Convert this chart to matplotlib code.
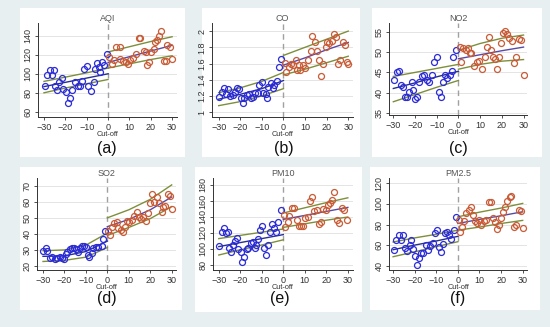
import numpy as np
import matplotlib
matplotlib.use('Agg')
import matplotlib.pyplot as plt
from matplotlib.patches import Rectangle

plt.rcParams['font.family'] = ['Liberation Sans', 'DejaVu Sans']

W, H = 550, 327

# ---------------- data ----------------
titles = ['AQI', 'CO', 'NO2', 'SO2', 'PM10', 'PM2.5']
letters = ['(a)', '(b)', '(c)', '(d)', '(e)', '(f)']
yticks = [[60, 80, 100, 120, 140],
          [1, 1.2, 1.4, 1.6, 1.8, 2],
          [35, 40, 45, 50, 55],
          [20, 30, 40, 50, 60, 70],
          [80, 100, 120, 140, 160, 180],
          [40, 60, 80, 100, 120]]
ytick_labels = [['60', '80', '100', '120', '140'],
                ['1', '1.2', '1.4', '1.6', '1.8', '2'],
                ['35', '40', '45', '50', '55'],
                ['20', '30', '40', '50', '60', '70'],
                ['80', '100', '120', '140', '160', '180'],
                ['40', '60', '80', '100', '120']]
xticks = [-30, -20, -10, 0, 10, 20, 30]

# AQI
aqi_bx = [-29.7, -28.6, -27.4, -26.4, -25.5, -24.9, -23.7, -22.9, -21.6, -20.9, -19.8, -18.7, -17.8,
          -16.8, -15.3, -14.2, -13.0, -12.2, -11.1, -9.9, -9.4, -8.0, -6.8, -6.0, -5.3, -4.0, -3.7,
          -2.6, -1.9, -0.6]
aqi_by = [86.8, 98.3, 103.5, 98.3, 103.5, 86.8, 82.6, 91.3, 95.5, 84.3, 80.9, 69.7, 74.6,
          82.6, 91.3, 86.8, 86.8, 92.0, 105.2, 108.7, 86.8, 81.9, 91.3, 105.2, 111.5, 107.0, 102.4,
          112.2, 109.7, 120.9]
aqi_rx = [0.3, 1.7, 2.8, 3.9, 5.4, 5.6, 7.0, 8.2, 9.4, 10.5, 11.7, 13.1, 14.4, 15.1, 16.7, 17.8,
          18.2, 19.3, 20.0, 21.3, 22.1, 22.9, 23.7, 24.9, 26.0, 27.2, 27.8, 29.0, 29.8]
aqi_ry = [118.0, 110.4, 114.5, 127.8, 128.5, 115.6, 113.9, 112.2, 110.4, 114.5, 116.6, 120.9, 137.2,
          137.5, 123.7, 122.6, 109.4, 112.2, 122.6, 126.1, 133.0, 135.5, 140.0, 145.2, 113.2, 113.2,
          130.6, 128.5, 115.6]

# CO
co_bx = [-29.8, -28.7, -27.6, -26.4, -25.5, -24.7, -23.6, -22.4, -21.6, -20.6, -19.8, -18.9, -18.1,
         -17.0, -15.8, -15.0, -13.9, -13.1, -12.0, -11.3, -10.0, -9.3, -8.2, -7.4, -7.0, -5.9, -5.0,
         -4.2, -3.1, -2.3, -1.2]
co_by = [1.19, 1.25, 1.30, 1.23, 1.28, 1.20, 1.21, 1.25, 1.30, 1.28, 1.18, 1.11, 1.17,
         1.21, 1.22, 1.17, 1.19, 1.24, 1.24, 1.34, 1.37, 1.24, 1.22, 1.18, 1.31, 1.36, 1.30,
         1.34, 1.39, 1.56, 1.66]
co_rx = [0.5, 1.2, 2.5, 3.6, 4.3, 5.6, 6.2, 7.1, 7.7, 9.0, 10.2, 11.3, 12.6, 13.4, 14.5, 15.6,
         16.5, 17.6, 18.4, 19.5, 20.3, 21.2, 22.3, 23.3, 24.3, 25.4, 26.4, 27.4, 28.4, 29.2, 30.0]
co_ry = [1.61, 1.50, 1.56, 1.60, 1.58, 1.64, 1.52, 1.58, 1.52, 1.58, 1.54, 1.64, 1.76, 1.94, 1.87,
         1.76, 1.64, 1.44, 1.60, 1.80, 1.86, 1.85, 1.88, 1.97, 1.93, 1.59, 1.64, 1.87, 1.83, 1.62, 1.60]

# NO2
no2_bx = [-29.5, -28.5, -27.2, -26.6, -25.4, -24.6, -23.5, -22.6, -21.5, -20.8, -20.0, -18.9, -18.0,
          -16.9, -15.7, -14.6, -13.5, -12.3, -11.2, -9.7, -8.9, -8.0, -6.9, -6.2, -5.1, -3.8, -3.1,
          -2.3, -1.1]
no2_by = [43.0, 45.2, 45.4, 41.9, 41.3, 39.0, 39.0, 40.2, 42.7, 40.6, 38.3, 39.0, 42.7,
          44.1, 44.4, 43.0, 42.7, 44.4, 47.5, 48.9, 40.2, 38.8, 42.7, 44.4, 43.6, 44.4, 45.4,
          48.9, 50.6]
no2_rx = [0.5, 1.2, 2.3, 3.5, 4.2, 5.1, 5.8, 7.2, 8.5, 9.7, 10.8, 12.3, 13.1, 14.2, 15.1, 15.8,
          16.9, 18.0, 18.9, 19.7, 20.5, 21.5, 22.3, 23.5, 24.6, 25.4, 26.6, 27.7, 28.8, 30.0]
no2_ry = [51.3, 47.5, 51.0, 50.6, 51.0, 49.9, 49.9, 46.7, 47.7, 47.9, 45.8, 48.9, 51.4, 53.7, 50.6,
          48.9, 48.3, 45.8, 48.8, 52.4, 54.8, 55.4, 54.5, 53.5, 52.7, 47.4, 48.8, 53.3, 53.1, 44.4]

# SO2
so2_bx = [-30.0, -28.8, -28.1, -26.8, -25.7, -24.6, -23.5, -22.2, -21.2, -20.3, -19.5, -18.8, -17.5,
          -16.7, -15.7, -14.8, -13.8, -12.9, -11.8, -11.1, -9.9, -9.1, -8.4, -7.3, -6.5, -5.3, -4.2,
          -2.6, -1.9, -0.9]
so2_by = [29.5, 31.4, 29.5, 25.2, 25.4, 24.1, 25.2, 25.8, 24.8, 24.1, 27.5, 28.9, 30.4,
          31.0, 31.0, 30.4, 28.9, 31.0, 32.4, 32.4, 32.0, 26.8, 25.8, 28.3, 31.0, 31.6, 31.6,
          32.4, 36.8, 42.0]
so2_rx = [0.5, 1.2, 2.3, 3.3, 4.3, 5.1, 6.2, 7.1, 8.2, 9.3, 10.2, 11.3, 12.4, 13.6, 14.7, 15.7,
          16.7, 17.8, 18.8, 19.8, 20.9, 21.9, 23.0, 23.9, 25.3, 26.0, 27.1, 28.4, 29.1, 30.0]
so2_ry = [42.0, 39.3, 44.5, 47.0, 47.6, 43.4, 42.4, 41.4, 44.5, 48.2, 47.6, 48.6, 51.1, 53.8, 50.7,
          49.3, 50.7, 48.2, 52.8, 59.4, 64.6, 60.0, 62.7, 59.0, 53.8, 56.9, 57.3, 64.6, 63.6, 55.3]

# PM10
pm10_bx = [-29.8, -28.7, -27.6, -26.8, -25.9, -25.1, -24.3, -23.3, -22.5, -21.7, -20.9, -19.8, -19.0,
           -18.1, -17.0, -16.2, -15.1, -14.2, -13.4, -12.6, -11.9, -10.8, -10.0, -9.2, -8.0, -6.9,
           -6.1, -5.4, -4.3, -3.4, -2.3, -1.1]
pm10_by = [103.8, 121.7, 125.8, 119.6, 121.7, 100.8, 96.7, 105.0, 110.0, 113.3, 99.6, 96.7, 83.3,
           89.6, 99.6, 100.8, 107.1, 109.2, 101.7, 105.0, 112.5, 123.8, 128.8, 101.7, 92.5, 105.0,
           121.7, 131.3, 125.8, 121.7, 134.2, 148.8]
pm10_rx = [0.5, 0.9, 2.0, 2.8, 4.0, 5.1, 6.2, 7.1, 8.2, 9.3, 10.2, 11.3, 12.4, 13.4, 14.4, 15.6,
           16.5, 17.6, 18.6, 19.9, 20.6, 21.7, 22.6, 23.7, 24.8, 26.0, 27.3, 28.4, 29.7]
pm10_ry = [142.5, 128.0, 134.2, 141.3, 151.7, 150.8, 136.3, 128.8, 128.8, 128.8, 138.3, 139.6,
           160.4, 164.6, 147.9, 148.8, 130.8, 134.2, 149.6, 148.8, 155.0, 157.9, 161.3, 171.7,
           136.3, 132.9, 150.8, 148.8, 136.3]

# PM2.5
pm25_bx = [-29.5, -28.8, -27.4, -26.4, -25.4, -24.6, -23.5, -22.3, -21.5, -20.8, -19.7, -18.8, -18.0,
           -16.9, -16.2, -14.9, -13.8, -12.8, -11.6, -10.5, -9.6, -8.8, -7.7, -6.9, -6.2, -5.1, -4.2,
           -3.1, -2.0, -0.8]
pm25_by = [55.2, 64.9, 69.8, 64.9, 69.8, 56.8, 54.5, 60.0, 64.9, 55.8, 49.3, 40.6, 47.1,
           52.6, 51.9, 60.0, 55.2, 59.1, 61.7, 71.4, 74.6, 57.8, 53.6, 61.0, 71.4, 73.0, 69.8,
           65.5, 74.6, 87.6]
pm25_rx = [0.3, 1.1, 2.0, 2.8, 3.9, 5.0, 5.9, 7.0, 7.7, 8.8, 9.7, 10.8, 11.9, 13.1, 14.2, 15.1,
           16.2, 17.3, 18.0, 19.0, 20.0, 20.9, 22.0, 22.9, 24.0, 24.8, 25.9, 27.1, 28.2, 29.0, 30.0]
pm25_ry = [84.3, 73.0, 77.9, 83.4, 90.8, 94.1, 97.3, 89.2, 83.4, 81.8, 84.3, 79.5, 83.4, 84.3, 102.2,
           102.2, 86.0, 82.7, 75.3, 79.5, 86.0, 92.4, 97.3, 103.1, 106.4, 107.7, 77.9, 79.5, 94.1,
           93.4, 76.2]

# fitted lines and bands, read at these x positions
line_xl = [-30, -20, -10, 0]
line_xr = [0, 10, 20, 30]
fit_l = [[86.5, 91, 95.5, 100], [1.16, 1.22, 1.29, 1.39], [41.0, 42.4, 43.9, 45.3],
         [26.0, 26.3, 29.0, 35.5], [103, 108, 113, 118], [55.5, 60, 64, 68.5]]
up_l = [[92, 96.5, 101, 106], [1.24, 1.30, 1.38, 1.49], [44.0, 45.0, 46.0, 47.0],
        [29.5, 30.0, 33.0, 40.5], [113, 117, 121, 125], [63, 67, 70.5, 74.5]]
lo_l = [[80, 85, 89.5, 94], [1.08, 1.13, 1.20, 1.29], [37.7, 39.5, 41.3, 43.0],
        [22.8, 23.5, 25.5, 31.5], [92.5, 99, 105, 111.5], [48.7, 53.5, 58.5, 63.3]]
fit_r = [[112, 118, 124, 130], [1.58, 1.67, 1.77, 1.86], [48.4, 49.4, 50.4, 51.3],
         [44.5, 49, 55, 63], [137, 142, 147, 152], [81, 85, 88.5, 92.4]]
up_r = [[123, 128.5, 134, 139], [1.70, 1.80, 1.90, 2.00], [50.5, 52.2, 53.5, 54.3],
        [50, 55, 61.5, 70.5], [145, 151.5, 158, 164], [87.5, 92, 96, 100.5]]
lo_r = [[106, 110.5, 115, 119], [1.46, 1.53, 1.61, 1.69], [45.8, 47.0, 47.8, 48.2],
        [39, 44, 49.5, 57], [127, 131.5, 136, 140], [74.5, 77.5, 81, 84]]

points = [(aqi_bx, aqi_by, aqi_rx, aqi_ry), (co_bx, co_by, co_rx, co_ry),
          (no2_bx, no2_by, no2_rx, no2_ry), (so2_bx, so2_by, so2_rx, so2_ry),
          (pm10_bx, pm10_by, pm10_rx, pm10_ry), (pm25_bx, pm25_by, pm25_rx, pm25_ry)]

# ---------------- layout (pixels) ----------------
boxes = [(20, 8, 185, 157), (202, 8, 360, 157), (372, 8, 542, 157),
         (20, 167, 182, 310), (195, 167, 362, 312), (370, 167, 540, 310)]
axrects = [(38, 23, 177, 117), (212, 23, 353, 117), (389, 23, 527, 115),
           (37, 178, 176, 270), (213, 178, 353, 270), (389, 178, 527, 270)]
xlims = [(-32.8, 32.3), (-33.1, 32.2), (-32, 31.6), (-32.8, 32), (-32.7, 32.4), (-31.9, 32)]
ylims = [(54.5, 153.5), (0.94, 2.1), (34.4, 57.3), (17.5, 74.8), (73.75, 188.75), (35.8, 125.2)]
letter_pos = [(107, 148), (284, 148), (458, 148), (107, 299), (280, 299), (458, 299)]

blue = '#2b2bd6'
red = '#c95a35'
olive = '#7d8f3a'
navy = '#27308f'
purple = '#5a4aa8'
ink = '#333333'

fig = plt.figure(figsize=(W / 100, H / 100), dpi=100)
fig.patch.set_facecolor('#e8eff1')

for i in range(6):
    x0, y0, x1, y1 = boxes[i]
    fig.add_artist(Rectangle((x0 / W, 1 - y1 / H), (x1 - x0) / W, (y1 - y0) / H,
                             transform=fig.transFigure, facecolor='white', edgecolor='none', zorder=0))

    l, t, r, b = axrects[i]
    ax = fig.add_axes([l / W, 1 - b / H, (r - l) / W, (b - t) / H])
    ax.set_facecolor('none')
    bx, by, rx, ry = points[i]

    ax.plot(line_xl, up_l[i], color=olive, lw=1, zorder=2)
    ax.plot(line_xl, lo_l[i], color=olive, lw=1, zorder=2)
    ax.plot(line_xl, fit_l[i], color=navy, lw=1, zorder=2)
    ax.plot(line_xr, up_r[i], color=olive, lw=1, zorder=2)
    ax.plot(line_xr, lo_r[i], color=olive, lw=1, zorder=2)
    ax.plot(line_xr, fit_r[i], color=purple, lw=1, zorder=2)

    ax.plot(bx, by, 'o', mfc='none', mec=blue, ms=4.3, mew=0.9, zorder=3)
    ax.plot(rx, ry, 'o', mfc='none', mec=red, ms=4.3, mew=0.9, zorder=3)

    ax.axvline(0, color='#a0a0a0', lw=1, ls=(0, (4, 3)), zorder=1)

    ax.set_xlim(*xlims[i])
    ax.set_ylim(*ylims[i])
    ax.set_xticks(xticks)
    ax.set_yticks(yticks[i])
    ax.set_yticklabels(ytick_labels[i], rotation=90, va='center')
    ax.yaxis.grid(True, color='#e4e4e4', lw=0.7, zorder=0)
    ax.set_axisbelow(True)
    for s in ['top', 'right']:
        ax.spines[s].set_visible(False)
    for s in ['left', 'bottom']:
        ax.spines[s].set_color(ink)
        ax.spines[s].set_linewidth(0.7)
    ax.tick_params(length=2.5, width=0.6, colors=ink, labelsize=6.5, pad=1.5)
    ax.set_title(titles[i], fontsize=6.5, color='#555555', pad=1.5)
    ax.set_xlabel('Cut-off', fontsize=5.3, color=ink, labelpad=-0.5)

    lx, ly = letter_pos[i]
    fig.text(lx / W, 1 - ly / H, letters[i], ha='center', va='center', fontsize=11.5, color='#111111')

fig.savefig('out.png', dpi=100, facecolor=fig.get_facecolor())
